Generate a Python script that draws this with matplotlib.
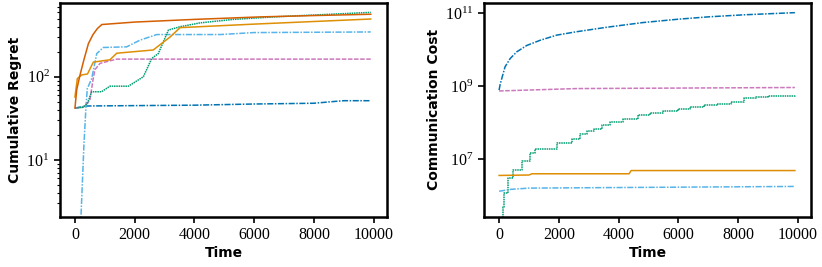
#!/usr/bin/env python3

import matplotlib
matplotlib.use("Agg")
import matplotlib.pyplot as plt

plt.rcParams['font.family'] = 'Liberation Serif'
plt.rcParams['mathtext.fontset'] = 'stix'

# ---- Cumulative regret (left panel) ----
reg_blue_t = [0, 390, 4000, 6000, 8000, 8700, 9000, 9900]
reg_blue_v = [42, 44.5, 45.5, 47, 48, 50.5, 51.5, 51.5]

reg_verm_t = [0, 60, 170, 300, 450, 600, 750, 900, 2000, 4000, 6200, 8000, 9900]
reg_verm_v = [42, 70, 105, 160, 250, 320, 380, 425, 455, 490, 525, 545, 565]

reg_orange_t = [0, 80, 220, 420, 615, 1170, 1400, 2620, 3180, 3520, 6000, 9900]
reg_orange_v = [57, 95, 105, 108, 150, 160, 192, 210, 300, 390, 430, 495]

reg_green_t = [0, 280, 420, 560, 890, 1170, 1790, 2290, 2570, 2790, 3130, 3520, 4190, 5300, 6650, 9900]
reg_green_v = [42, 43, 48, 66, 66, 77, 77, 100, 166, 190, 365, 400, 445, 490, 525, 595]

reg_pink_t = [0, 280, 500, 600, 670, 840, 1000, 1400, 9900]
reg_pink_v = [42, 43, 52, 90, 122, 145, 150, 163, 163]

reg_lblue_t = [0, 100, 200, 300, 370, 413, 560, 730, 950, 1730, 2180, 2740, 4860, 5980, 9900]
reg_lblue_v = [0.2, 0.7, 2.0, 15, 44, 72, 95, 190, 225, 229, 276, 322, 322, 340, 346]

# ---- Communication cost (right panel) ----
com_blue_t = [0, 33, 90, 200, 370, 590, 925, 1370, 1930, 2600, 3600, 4800, 5980, 7000, 8210, 9900]
com_blue_v = [7.8e8, 1.1e9, 1.63e9, 3.4e9, 5.7e9, 8.7e9, 1.3e10, 1.8e10, 2.5e10, 3.1e10, 4.1e10,
              5.5e10, 6.8e10, 7.9e10, 9.0e10, 1.03e11]

com_pink_t = [0, 2600, 9900]
com_pink_v = [7.4e8, 8.6e8, 9.2e8]

com_green_t = [0, 124, 170, 311, 480, 760, 1040, 1200, 1930, 2430, 2710, 2950, 3160, 3450, 3710,
               4160, 4660, 5050, 5500, 5980, 6400, 6870, 7300, 7760, 8210, 8600, 8990, 9900]
com_green_v = [1e5, 4.9e5, 1.2e6, 3.0e6, 5.2e6, 8.9e6, 1.44e7, 1.96e7, 2.7e7, 3.5e7, 5.0e7, 5.8e7,
               6.9e7, 8.5e7, 1.05e8, 1.3e8, 1.6e8, 1.8e8, 2.1e8, 2.4e8, 2.7e8, 3.0e8, 3.3e8,
               3.7e8, 4.6e8, 4.9e8, 5.4e8, 5.7e8]

com_orange_t = [0, 1000, 1100, 4350, 4420, 9900]
com_orange_v = [3.6e6, 3.7e6, 4.0e6, 4.0e6, 4.9e6, 4.9e6]

com_lblue_t = [0, 400, 1000, 4000, 7000, 9900]
com_lblue_v = [1.33e6, 1.5e6, 1.62e6, 1.68e6, 1.74e6, 1.8e6]

BLUE = '#0173B2'
ORANGE = '#DE8F05'
GREEN = '#029E73'
VERM = '#D55E00'
PINK = '#CC78BC'
LBLUE = '#56B4E9'

DASHDOT = (0, (4, 1, 1, 1))
DOTTED = (0, (1, 0.5))
DASHED = (0, (3, 1))


def style_axes(ax, ylabel):
    ax.set_yscale('log')
    for s in ax.spines.values():
        s.set_linewidth(1.8)
    ax.tick_params(axis='both', which='major', labelsize=11.5, length=4, width=1.2)
    ax.tick_params(axis='y', which='minor', length=2.5, width=0.8)
    ax.set_xticks([0, 2000, 4000, 6000, 8000, 10000])
    ax.set_xlim(-500, 10450)
    ax.set_xlabel('Time', fontsize=10, fontweight='bold', family='DejaVu Sans', labelpad=2)
    ax.set_ylabel(ylabel, fontsize=10, fontweight='bold', family='DejaVu Sans', labelpad=3)


def main():
    fig = plt.figure(figsize=(8.22, 2.67), dpi=100)
    ax1 = fig.add_axes([0.073, 0.189, 0.398, 0.8])
    ax2 = fig.add_axes([0.589, 0.189, 0.398, 0.8])

    lw = 1.1
    ax1.plot(reg_blue_t, reg_blue_v, color=BLUE, ls=DASHDOT, lw=lw)
    ax1.plot(reg_lblue_t, reg_lblue_v, color=LBLUE, ls=DASHDOT, lw=lw)
    ax1.plot(reg_pink_t, reg_pink_v, color=PINK, ls=DASHED, lw=lw)
    ax1.plot(reg_green_t, reg_green_v, color=GREEN, ls=DOTTED, lw=lw)
    ax1.plot(reg_orange_t, reg_orange_v, color=ORANGE, ls='-', lw=lw)
    ax1.plot(reg_verm_t, reg_verm_v, color=VERM, ls='-', lw=lw)
    style_axes(ax1, 'Cumulative Regret')
    ax1.set_ylim(2.08, 773)

    ax2.plot(com_blue_t, com_blue_v, color=BLUE, ls=DASHDOT, lw=lw)
    ax2.plot(com_pink_t, com_pink_v, color=PINK, ls=DASHED, lw=lw)
    ax2.plot(com_green_t, com_green_v, color=GREEN, ls=DOTTED, lw=lw, drawstyle='steps-post')
    ax2.plot(com_orange_t, com_orange_v, color=ORANGE, ls='-', lw=lw)
    ax2.plot(com_lblue_t, com_lblue_v, color=LBLUE, ls=DASHDOT, lw=lw)
    style_axes(ax2, 'Communication Cost')
    ax2.set_ylim(2.7e5, 1.9e11)
    ax2.set_yticks([1e7, 1e9, 1e11])
    ax2.yaxis.set_minor_locator(matplotlib.ticker.NullLocator())

    plt.savefig('out.png', dpi=100)


if __name__ == "__main__":
    main()
